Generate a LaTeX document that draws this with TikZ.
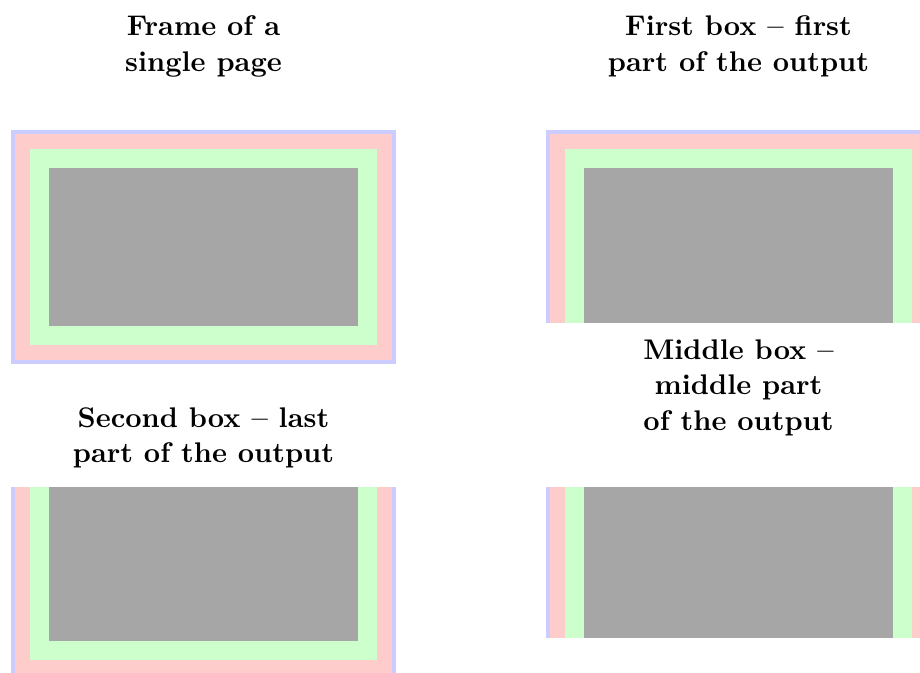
\documentclass[tikz,border=0pt]{standalone}
\begin{document}
\begin{tikzpicture}[x=0.352pt,y=-0.352pt,
  bluelayer/.style={fill=blue!20},
  pinklayer/.style={fill=red!20},
  greenlayer/.style={fill=green!20},
  contentlayer/.style={fill=black!35},
  title/.style={anchor=base,inner sep=0pt,font=\bfseries}]
\useasboundingbox (0,0) rectangle (920,673);
\clip (0,0) rectangle (920,673);
% Frame of a single page
\fill[bluelayer] (11,130) rectangle (396,364);
\fill[pinklayer] (15,134) rectangle (392,360);
\fill[greenlayer] (30,149) rectangle (377,345);
\fill[contentlayer] (49,168) rectangle (358,326);
% First box
\fill[bluelayer] (546,130) rectangle (931,323);
\fill[pinklayer] (550,134) rectangle (927,323);
\fill[greenlayer] (565,149) rectangle (912,323);
\fill[contentlayer] (584,168) rectangle (893,323);
% Second box
\fill[bluelayer] (11,487) rectangle (396,679);
\fill[pinklayer] (15,487) rectangle (392,675);
\fill[greenlayer] (30,487) rectangle (377,660);
\fill[contentlayer] (49,487) rectangle (358,641);
% Middle box
\fill[bluelayer] (546,487) rectangle (931,638);
\fill[pinklayer] (550,487) rectangle (927,638);
\fill[greenlayer] (565,487) rectangle (912,638);
\fill[contentlayer] (584,487) rectangle (893,638);
% titles
\node[title] (t1a) at (203.5,36) {Frame of a};
\node[title] (t1b) at (203.5,71.5) {single page};
\node[title] (t2a) at (738.5,36) {First box -- first};
\node[title] (t2b) at (738.5,71.5) {part of the output};
\node[title] (t3a) at (203.5,427) {Second box -- last};
\node[title] (t3b) at (203.5,462) {part of the output};
\node[title] (t4a) at (738.5,360) {Middle box --};
\node[title] (t4b) at (738.5,395) {middle part};
\node[title] (t4c) at (738.5,430) {of the output};
\end{tikzpicture}
\end{document}
